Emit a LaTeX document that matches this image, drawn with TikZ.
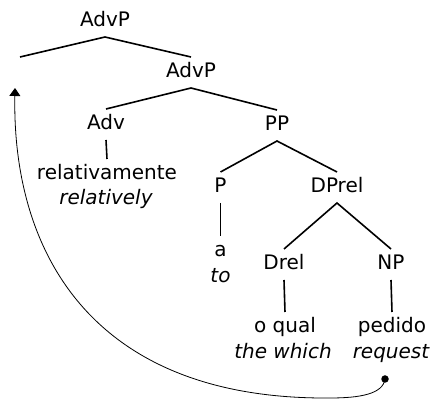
\documentclass[tikz,border=0pt]{standalone}
\usepackage{fontspec}
\setmainfont{DejaVu Sans}[ItalicFont={DejaVu Sans Oblique}]
\usetikzlibrary{arrows.meta}
\begin{document}
\begin{tikzpicture}[x=1pt,y=-1pt,
  lbl/.style={font=\fontsize{20}{24}\selectfont, inner sep=0pt, text height=15pt, text depth=4pt, outer ysep=6pt, outer xsep=0pt, anchor=base},
  gloss/.style={font=\fontsize{20}{24}\selectfont\itshape, inner sep=0pt, anchor=base},
  branch/.style={line width=1.6pt},
  move/.style={line width=0.8pt, -{Triangle[width=11pt,length=8pt]}},
  dotted end/.style={circle, fill=black, inner sep=0pt, minimum size=7.5pt}]
\useasboundingbox (0,0) rectangle (432,401);
% nodes
\node[lbl] (advp1) at (105,27) {AdvP};
\coordinate (spec) at (20,57);
\node[lbl] (advp2) at (191,78) {AdvP};
\node[lbl] (adv) at (106,130) {Adv};
\node[lbl] (relw) at (107,180) {relativamente};
\node[gloss] (relg) at (106,205) {relatively};
\node[lbl] (pp) at (277,131) {PP};
\node[lbl] (p) at (220.5,193) {P};
\node[lbl] (aw) at (220.5,257) {a};
\node[gloss] (ag) at (220.5,283) {to};
\node[lbl] (dprel) at (337,193) {DPrel};
\node[lbl] (drel) at (284,270) {Drel};
\node[lbl] (np) at (391,270) {NP};
\node[lbl] (oqual) at (285,333) {o qual};
\node[gloss] (oqualg) at (283,359) {the which};
\node[lbl] (ped) at (392,333) {pedido};
\node[gloss] (pedg) at (391,359) {request};
\node[dotted end] (dot) at (385,379) {};
\coordinate (bottom) at (330,398);
\coordinate (tip) at (15,88);
% branches
\draw[branch] (spec) -- (advp1.south) -- (advp2.north);
\draw[branch] (adv.north) -- (advp2.south) -- (pp.north);
\draw[branch] (adv.south) -- (relw.north);
\draw[branch] (p.north) -- (pp.south) -- (dprel.north);
\draw[branch] (p.south) -- (aw.north);
\draw[branch] (drel.north) -- (dprel.south) -- (np.north);
\draw[branch] (drel.south) -- (oqual.north);
\draw[branch] (np.south) -- (ped.north);
% movement arrow
\draw[move] (dot.center) .. controls (383,394) and (360,398) .. (bottom)
  .. controls (90,400) and (12,250) .. (tip);
\end{tikzpicture}
\end{document}
